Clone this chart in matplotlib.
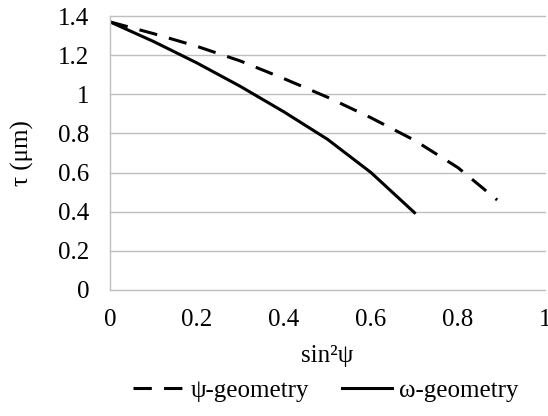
import matplotlib
matplotlib.use('Agg')
import matplotlib.pyplot as plt

# sin^2(psi) values and tau (um)
x_psi = [0, 0.1, 0.2, 0.3, 0.4, 0.5, 0.6, 0.7, 0.8, 0.89]
tau_psi = [1.37, 1.31, 1.245, 1.17, 1.08, 0.985, 0.88, 0.765, 0.625, 0.46]

x_omega = [0, 0.1, 0.2, 0.3, 0.4, 0.5, 0.6, 0.7]
tau_omega = [1.37, 1.27, 1.16, 1.04, 0.91, 0.77, 0.6, 0.395]

x_ticks = [0, 0.2, 0.4, 0.6, 0.8, 1]
x_ticklabels = ['0', '0.2', '0.4', '0.6', '0.8', '1']
y_ticks = [0, 0.2, 0.4, 0.6, 0.8, 1, 1.2, 1.4]
y_ticklabels = ['0', '0.2', '0.4', '0.6', '0.8', '1', '1.2', '1.4']

plt.rcParams['font.family'] = ['Liberation Serif', 'DejaVu Serif']
plt.rcParams['font.size'] = 18

fig = plt.figure(figsize=(5.48, 4.16), dpi=100)
ax = fig.add_axes([0.2007, 0.303, 0.7938, 0.6585])

grid_c = '#BFBFBF'
for yv in y_ticks[1:]:
    ax.axhline(yv, color=grid_c, lw=1.0, zorder=0, clip_on=False)

ax.plot(x_psi, tau_psi, color='black', lw=2.2, dashes=(6, 4), label='ψ-geometry')
ax.plot(x_omega, tau_omega, color='black', lw=2.2, label='ω-geometry')

ax.set_xlim(0, 1)
ax.set_ylim(0, 1.4)
ax.set_xticks(x_ticks)
ax.set_xticklabels(x_ticklabels)
ax.set_yticks(y_ticks)
ax.set_yticklabels(y_ticklabels)
ax.tick_params(axis='y', length=0, pad=15)
ax.tick_params(axis='x', length=0, pad=14)

for s in ['top', 'right']:
    ax.spines[s].set_visible(False)
for s in ['left', 'bottom']:
    ax.spines[s].set_color(grid_c)
    ax.spines[s].set_linewidth(1.0)

ax.set_xlabel('sin²ψ', labelpad=10)
ax.set_ylabel('τ (μm)', labelpad=17)

fig.legend(loc='lower center', ncol=2, frameon=False, bbox_to_anchor=(0.595, -0.02),
           handlelength=2.0, columnspacing=1.3, handletextpad=0.3)

fig.savefig('out.png', dpi=100)
